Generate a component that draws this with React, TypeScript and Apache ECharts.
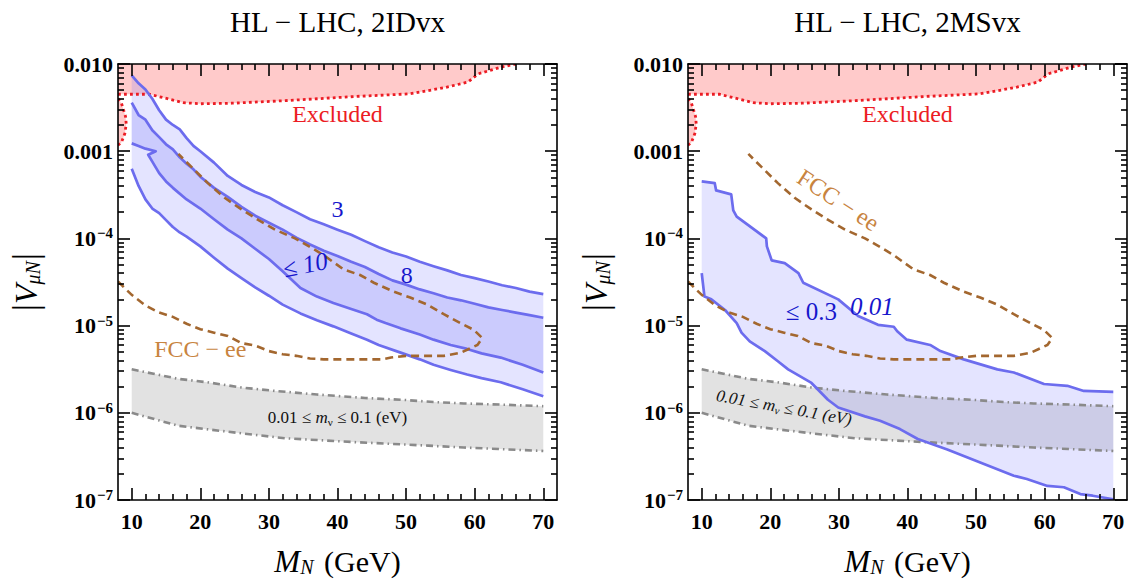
import React, { useEffect, useRef } from "react";
import * as echarts from "echarts";

const W = 1131;
const H = 583;
const FONT = "Liberation Serif, DejaVu Serif, serif";

// ---------------- axis ticks ----------------
const xMajorTicks = [10, 20, 30, 40, 50, 60, 70];
const xMinorTicks = [12, 14, 16, 18, 22, 24, 26, 28, 32, 34, 36, 38, 42, 44, 46, 48, 52, 54, 56, 58, 62, 64, 66, 68];
const yDecades = [-7, -6, -5, -4, -3];
const yMantissas = [2, 3, 4, 5, 6, 7, 8, 9];

const panelTitles = ["HL − LHC, 2IDvx", "HL − LHC, 2MSvx"];

// ---------------- shared curves [M_N (GeV), |V|] ----------------
const excludedEdge: number[][] = [
  [8, 4.5e-3], [12.6, 4.5e-3], [15.2, 4.0e-3], [17.5, 3.6e-3], [20, 3.5e-3], [24.6, 3.55e-3],
  [32.4, 3.8e-3], [42.8, 4.25e-3], [50.6, 4.55e-3], [55.8, 5.4e-3], [59, 6.2e-3], [60.5, 7.7e-3],
  [63.6, 9.1e-3], [66, 1.0e-2],
];
const excludedSliver: number[][] = [
  [8, 4.0e-3], [8.5, 3.55e-3], [9.1, 2.5e-3], [9.2, 2.05e-3], [9.0, 1.6e-3], [8.5, 1.26e-3], [8, 1.17e-3],
];

const seesawUpper: number[][] = [
  [10, 3.15e-6], [16.8, 2.45e-6], [21, 2.24e-6], [26, 1.95e-6], [31, 1.78e-6], [37, 1.62e-6],
  [44, 1.48e-6], [50, 1.4e-6], [54, 1.33e-6], [58.4, 1.28e-6], [64, 1.24e-6], [70, 1.19e-6],
];
const seesawLower: number[][] = [
  [10, 1.0e-6], [16.8, 7.1e-7], [23, 6.2e-7], [32.4, 5.1e-7], [42.8, 4.6e-7], [53.2, 4.2e-7],
  [58.4, 4.0e-7], [70, 3.65e-7],
];

const fccContour: number[][] = [
  [8, 3.2e-5], [10, 2.25e-5], [12, 1.7e-5], [14, 1.41e-5], [16, 1.26e-5], [18, 1.05e-5], [20, 9.1e-6],
  [22, 8.3e-6], [24, 7.6e-6], [26, 6.3e-6], [28, 5.9e-6], [30, 5.1e-6], [32, 4.7e-6], [34, 4.5e-6],
  [36, 4.2e-6], [38, 4.1e-6], [42, 4.1e-6], [46.5, 4.1e-6], [47.8, 4.3e-6], [50, 4.5e-6], [55.5, 4.5e-6],
  [58, 4.9e-6], [60.4, 6.0e-6], [61.1, 7.2e-6], [59.9, 8.9e-6], [57.9, 1.07e-5], [55.5, 1.35e-5],
  [53.1, 1.74e-5], [50.6, 2.1e-5], [48.2, 2.45e-5], [45.3, 3.1e-5], [43.3, 3.8e-5], [40.9, 4.4e-5],
  [37.9, 6.5e-5], [36.2, 7.8e-5], [33.8, 1.0e-4], [30.9, 1.26e-4], [28.5, 1.62e-4], [26, 2.15e-4],
  [23.6, 2.9e-4], [21.1, 4.3e-4], [18.7, 6.6e-4], [16.8, 9.3e-4],
];

// ---------------- 2IDvx contours ----------------
const idvx3Upper: number[][] = [
  [10, 7.4e-3], [11, 6.0e-3], [12, 5.1e-3], [13, 4.0e-3], [14, 2.95e-3], [15, 2.3e-3], [16, 2.0e-3],
  [17, 1.78e-3], [18, 1.41e-3], [19, 1.15e-3], [20, 1.0e-3], [22, 7.4e-4], [24, 5.2e-4], [26, 4.1e-4],
  [28, 3.4e-4], [30, 2.95e-4], [32, 2.4e-4], [34, 2.0e-4], [36, 1.66e-4], [38, 1.45e-4], [40, 1.26e-4],
  [42, 1.1e-4], [44, 9.3e-5], [46, 7.9e-5], [48, 6.9e-5], [50, 6.2e-5], [52, 5.4e-5], [54, 4.8e-5],
  [56, 4.3e-5], [58, 3.8e-5], [60, 3.5e-5], [62, 3.2e-5], [64, 2.9e-5], [66, 2.7e-5], [68, 2.45e-5],
  [70, 2.3e-5],
];
const idvx8Upper: number[][] = [
  [10, 3.6e-3], [11, 2.6e-3], [12, 2.3e-3], [13, 1.74e-3], [14, 1.45e-3], [15, 1.2e-3], [16, 1.05e-3],
  [17, 8.5e-4], [18, 7.2e-4], [19, 6.2e-4], [20, 5.1e-4], [22, 3.8e-4], [24, 3.0e-4], [26, 2.3e-4],
  [28, 1.82e-4], [30, 1.51e-4], [32, 1.26e-4], [34, 1.02e-4], [36, 8.5e-5], [38, 7.2e-5], [40, 6.3e-5],
  [42, 5.4e-5], [44, 4.7e-5], [46, 3.9e-5], [48, 3.3e-5], [50, 2.95e-5], [52, 2.6e-5], [54, 2.35e-5],
  [56, 2.1e-5], [58, 1.95e-5], [60, 1.78e-5], [62, 1.62e-5], [64, 1.51e-5], [66, 1.41e-5], [68, 1.32e-5],
  [70, 1.23e-5],
];
const idvx8Lower: number[][] = [
  [10, 1.23e-3], [11, 1.15e-3], [12, 1.07e-3], [13.5, 1.0e-3], [12.4, 9.1e-4], [13, 7.6e-4], [14, 5.6e-4],
  [15, 4.5e-4], [16, 3.8e-4], [18, 2.8e-4], [20, 2.2e-4], [22, 1.66e-4], [24, 1.26e-4], [26, 1.0e-4],
  [28, 7.6e-5], [30, 5.8e-5], [32, 4.2e-5], [34.6, 2.7e-5], [37, 2.15e-5], [39.4, 1.82e-5], [42, 1.55e-5],
  [44.3, 1.35e-5], [45.7, 1.17e-5], [47, 1.07e-5], [49.2, 9.3e-6], [52, 7.9e-6], [54, 6.9e-6],
  [56.5, 6.0e-6], [58.9, 5.4e-6], [61, 4.8e-6], [63.8, 4.3e-6], [67, 3.55e-6], [70, 2.9e-6],
];
const idvx3Lower: number[][] = [
  [10, 6.3e-4], [11, 4.0e-4], [12, 2.8e-4], [13, 2.2e-4], [14, 1.95e-4], [15, 1.62e-4], [16, 1.35e-4],
  [17, 1.17e-4], [18, 1.05e-4], [20, 8.1e-5], [22, 6.0e-5], [24, 4.5e-5], [26, 3.5e-5], [28, 2.75e-5],
  [30, 2.2e-5], [32, 1.74e-5], [34.6, 1.38e-5], [37, 1.15e-5], [39.4, 9.8e-6], [42, 8.1e-6],
  [44.3, 6.9e-6], [46, 6.0e-6], [49.2, 4.9e-6], [52, 4.1e-6], [54, 3.55e-6], [56.5, 3.1e-6],
  [58.9, 2.75e-6], [61, 2.5e-6], [63.8, 2.24e-6], [67, 1.86e-6], [70, 1.55e-6],
];

// ---------------- 2MSvx contour ----------------
const msvxUpper: number[][] = [
  [10, 4.5e-4], [11.9, 4.3e-4], [12.1, 3.55e-4], [14.3, 3.2e-4], [14.6, 2.1e-4], [15.1, 1.78e-4],
  [19.4, 1.0e-4], [19.5, 8.1e-5], [20.2, 5.6e-5], [22.1, 5.2e-5], [24.1, 4.0e-5], [24.8, 3.1e-5],
  [29.9, 2.0e-5], [32.8, 1.29e-5], [35.7, 1.02e-5], [38.0, 9.7e-6], [38.5, 8.6e-6], [39.9, 6.9e-6],
  [43.3, 6.0e-6], [44.8, 5.1e-6], [48.2, 4.1e-6], [53.1, 3.15e-6], [55.5, 2.9e-6], [59.9, 2.14e-6],
  [63.3, 2.04e-6], [65.7, 1.78e-6], [70, 1.74e-6],
];
const msvxLower: number[][] = [
  [10, 4.0e-5], [10.4, 2.15e-5], [11.4, 2.0e-5], [13.4, 1.51e-5], [15.1, 1.07e-5], [15.8, 8.3e-6],
  [17.0, 6.6e-6], [19.2, 5.1e-6], [21.1, 3.9e-6], [22.6, 3.15e-6], [26, 2.2e-6], [28.4, 1.41e-6],
  [29.9, 1.15e-6], [33.8, 9.1e-7], [36, 8.1e-7], [38.9, 6.5e-7], [41.5, 5.0e-7], [45.8, 3.8e-7],
  [50.6, 2.7e-7], [55.5, 1.9e-7], [57.4, 1.74e-7], [60.4, 1.45e-7], [62.8, 1.4e-7], [65.2, 1.17e-7],
  [67, 1.12e-7], [70, 1.02e-7],
];

// ---------------- colours ----------------
const C = {
  redFill: "#ffcaca",
  redLine: "#ec1c24",
  blueLine: "#6c6cee",
  blueLight: "rgba(110,110,255,0.19)",
  blueDark: "rgba(90,90,245,0.18)",
  grayFill: "#e2e2e2",
  grayLine: "#8a8a8a",
  brown: "#a3672f",
  fccText: "#c8843f",
  blueText: "#1616cc",
};

type Label = {
  m: number;
  v: number;
  text: string;
  color: string;
  size: number;
  italic?: boolean;
  rot?: number;
};

const idvxLabels: Label[] = [
  { m: 40, v: 2.7e-3, text: "Excluded", color: C.redLine, size: 24 },
  { m: 40, v: 2.2e-4, text: "3", color: C.blueText, size: 24 },
  { m: 50.1, v: 3.8e-5, text: "8", color: C.blueText, size: 24 },
  { m: 35.3, v: 5.0e-5, text: "≤ {i|10}", color: C.blueText, size: 25, rot: 0.2 },
  { m: 20, v: 5.4e-6, text: "FCC − ee", color: C.fccText, size: 24 },
  { m: 40, v: 8.8e-7, text: "0.01 ≤ {i|m}{s|ν} ≤ 0.1 (eV)", color: "#111", size: 17 },
];
const msvxLabels: Label[] = [
  { m: 40, v: 2.7e-3, text: "Excluded", color: C.redLine, size: 24 },
  { m: 29.9, v: 2.75e-4, text: "FCC − ee", color: C.fccText, size: 24, rot: -0.58 },
  { m: 34.8, v: 1.66e-5, text: "0.01", color: C.blueText, size: 25, italic: true },
  { m: 26, v: 1.45e-5, text: "≤ 0.3", color: C.blueText, size: 25 },
  { m: 22, v: 1.15e-6, text: "0.01 ≤ {i|m}{s|ν} ≤ 0.1 (eV)", color: "#111", size: 17, italic: true, rot: -0.18 },
];

// ---------------- helpers ----------------
const yMinorLogs: number[] = [];
yDecades.forEach((d) => yMantissas.forEach((m) => yMinorLogs.push(d + Math.log10(m))));

const axisLine = { color: "#000", width: 1.6 };

function xAxesFor(g: number) {
  const base = { type: "value", gridIndex: g, min: 8, max: 72, splitLine: { show: false }, z: 10 };
  return [
    {
      ...base,
      position: "bottom",
      axisLine: { show: true, onZero: false, lineStyle: axisLine },
      axisTick: { show: true, inside: true, length: 12, customValues: xMajorTicks, lineStyle: axisLine },
      axisLabel: {
        customValues: xMajorTicks,
        fontFamily: FONT,
        fontWeight: "bold",
        fontSize: 22,
        color: "#000",
        margin: 10,
      },
      name: "{m|M}{n|N} (GeV)",
      nameLocation: "middle",
      nameGap: 45,
      nameTextStyle: {
        fontFamily: FONT,
        fontSize: 30,
        color: "#000",
        rich: {
          m: { fontFamily: FONT, fontSize: 31, fontStyle: "italic", color: "#000" },
          n: { fontFamily: FONT, fontSize: 20, fontStyle: "italic", color: "#000", padding: [12, 3, 0, 0] },
        },
      },
    },
    {
      ...base,
      position: "bottom",
      axisLine: { show: false, onZero: false },
      axisTick: { show: true, inside: true, length: 6, customValues: xMinorTicks, lineStyle: axisLine },
      axisLabel: { show: false },
    },
    {
      ...base,
      position: "top",
      axisLine: { show: true, onZero: false, lineStyle: axisLine },
      axisTick: { show: true, inside: true, length: 12, customValues: xMajorTicks, lineStyle: axisLine },
      axisLabel: { show: false },
    },
    {
      ...base,
      position: "top",
      axisLine: { show: false, onZero: false },
      axisTick: { show: true, inside: true, length: 6, customValues: xMinorTicks, lineStyle: axisLine },
      axisLabel: { show: false },
    },
  ];
}

function yLabel(v: number) {
  const k = Math.round(Math.log10(v));
  if (k === -2) return "0.010";
  if (k === -3) return "0.001";
  return "{b|10}{s|−" + -k + "}";
}

function yAxesFor(g: number) {
  const logBase = {
    type: "log",
    logBase: 10,
    gridIndex: g,
    min: 1e-7,
    max: 1e-2,
    splitNumber: 5,
    splitLine: { show: false },
    z: 10,
  };
  const helper = { type: "value", gridIndex: g, min: -7, max: -2, splitLine: { show: false }, z: 10 };
  return [
    {
      ...logBase,
      position: "left",
      axisLine: { show: true, onZero: false, lineStyle: axisLine },
      axisTick: { show: true, inside: true, length: 12, lineStyle: axisLine },
      axisLabel: {
        formatter: yLabel,
        fontFamily: FONT,
        fontWeight: "bold",
        fontSize: 22,
        color: "#000",
        margin: 5,
        rich: {
          b: { fontFamily: FONT, fontWeight: "bold", fontSize: 22, color: "#000" },
          s: { fontFamily: FONT, fontWeight: "bold", fontSize: 15, color: "#000", padding: [0, 0, 10, 1] },
        },
      },
      name: "{a||}{v|V}{s|μN}{a||}",
      nameLocation: "middle",
      nameRotate: 90,
      nameGap: 75,
      nameTextStyle: {
        fontFamily: FONT,
        fontSize: 30,
        color: "#000",
        rich: {
          a: { fontFamily: FONT, fontSize: 35, color: "#000" },
          v: { fontFamily: FONT, fontSize: 32, fontStyle: "italic", color: "#000" },
          s: { fontFamily: FONT, fontSize: 20, fontStyle: "italic", color: "#000", padding: [14, 1, 0, 0] },
        },
      },
    },
    {
      ...helper,
      position: "left",
      axisLine: { show: false, onZero: false },
      axisTick: { show: true, inside: true, length: 6, customValues: yMinorLogs, lineStyle: axisLine },
      axisLabel: { show: false },
    },
    {
      ...logBase,
      position: "right",
      axisLine: { show: true, onZero: false, lineStyle: axisLine },
      axisTick: { show: true, inside: true, length: 12, lineStyle: axisLine },
      axisLabel: { show: false },
    },
    {
      ...helper,
      position: "right",
      axisLine: { show: false, onZero: false },
      axisTick: { show: true, inside: true, length: 6, customValues: yMinorLogs, lineStyle: axisLine },
      axisLabel: { show: false },
    },
  ];
}

function shape(g: number, pts: number[][], style: any, closed: boolean, z = 2) {
  return {
    type: "custom",
    xAxisIndex: g * 4,
    yAxisIndex: g * 4,
    data: [pts[0]],
    z,
    silent: true,
    clip: true,
    renderItem: (_p: any, api: any) => ({
      type: closed ? "polygon" : "polyline",
      shape: { points: pts.map((p) => api.coord(p)) },
      style: closed ? style : { ...style, fill: null },
    }),
  };
}

function labelSeries(g: number, items: Label[]) {
  return {
    type: "custom",
    xAxisIndex: g * 4,
    yAxisIndex: g * 4,
    data: items.map((it) => [it.m, it.v]),
    z: 5,
    silent: true,
    clip: false,
    renderItem: (params: any, api: any) => {
      const it = items[params.dataIndex];
      const pt = api.coord([api.value(0), api.value(1)]);
      const fs = it.italic ? "italic" : "normal";
      return {
        type: "text",
        x: pt[0],
        y: pt[1],
        rotation: it.rot || 0,
        style: {
          text: it.text,
          fill: it.color,
          fontFamily: FONT,
          fontSize: it.size,
          fontStyle: fs,
          align: "center",
          verticalAlign: "middle",
          rich: {
            i: { fontFamily: FONT, fontSize: it.size, fontStyle: "italic", fill: it.color },
            s: {
              fontFamily: FONT,
              fontSize: Math.round(it.size * 0.65),
              fontStyle: fs,
              fill: it.color,
              padding: [Math.round(it.size * 0.45), 0, 0, 0],
            },
          },
        },
      };
    },
  };
}

const rev = (a: number[][]) => a.slice().reverse();

function commonSeries(g: number) {
  return [
    shape(g, [[8, 1e-2], ...rev(excludedEdge), ...excludedSliver], { fill: C.redFill }, true, 1),
    shape(g, [...seesawUpper, ...rev(seesawLower)], { fill: C.grayFill }, true, 1),
  ];
}

function commonLines(g: number) {
  const dotted = { stroke: C.redLine, lineWidth: 2.8, lineDash: [2.8, 3.2] };
  const dashDot = { stroke: C.grayLine, lineWidth: 2.6, lineDash: [7, 4, 1.5, 4] };
  return [
    shape(g, excludedEdge, dotted, false, 3),
    shape(g, excludedSliver, dotted, false, 3),
    shape(g, seesawUpper, dashDot, false, 3),
    shape(g, seesawLower, dashDot, false, 3),
  ];
}

const fccLine = (g: number) =>
  shape(g, fccContour, { stroke: C.brown, lineWidth: 2.6, lineDash: [8, 5] }, false, 4);

const blueStroke = { stroke: C.blueLine, lineWidth: 2.7, lineJoin: "round" };

function buildOption() {
  const series: any[] = [];
  // left panel
  series.push(...commonSeries(0));
  series.push(shape(0, [...idvx3Upper, ...rev(idvx3Lower)], { fill: C.blueLight }, true, 2));
  series.push(shape(0, [...idvx8Upper, ...rev(idvx8Lower)], { fill: C.blueDark }, true, 2));
  series.push(...commonLines(0));
  series.push(shape(0, idvx3Upper, blueStroke, false, 3));
  series.push(shape(0, idvx8Upper, blueStroke, false, 3));
  series.push(shape(0, idvx8Lower, blueStroke, false, 3));
  series.push(shape(0, idvx3Lower, blueStroke, false, 3));
  series.push(fccLine(0));
  series.push(labelSeries(0, idvxLabels));
  // right panel
  series.push(...commonSeries(1));
  series.push(shape(1, [...msvxUpper, ...rev(msvxLower)], { fill: C.blueLight }, true, 2));
  series.push(...commonLines(1));
  series.push(shape(1, msvxUpper, blueStroke, false, 3));
  series.push(shape(1, msvxLower, blueStroke, false, 3));
  series.push(fccLine(1));
  series.push(labelSeries(1, msvxLabels));

  const grids = [
    { left: 118, top: 64, width: 439, height: 436 },
    { left: 688, top: 64, width: 439, height: 436 },
  ];

  return {
    animation: false,
    backgroundColor: "#ffffff",
    textStyle: { fontFamily: FONT },
    grid: grids,
    xAxis: [...xAxesFor(0), ...xAxesFor(1)],
    yAxis: [...yAxesFor(0), ...yAxesFor(1)],
    graphic: panelTitles.map((t, i) => ({
      type: "text",
      x: grids[i].left + grids[i].width / 2,
      y: 22,
      style: {
        text: t,
        fill: "#000",
        fontFamily: FONT,
        fontSize: 29,
        align: "center",
        verticalAlign: "middle",
      },
    })),
    series,
  };
}

export default function App() {
  const ref = useRef<HTMLDivElement>(null);
  useEffect(() => {
    const chart = echarts.init(ref.current as HTMLDivElement, undefined, {
      renderer: "svg",
      width: W,
      height: H,
    });
    chart.setOption(buildOption() as any);
    return () => chart.dispose();
  }, []);
  return (
    <div
      ref={ref}
      style={{ position: "absolute", left: 0, top: 0, width: W, height: H, background: "#fff" }}
    />
  );
}
